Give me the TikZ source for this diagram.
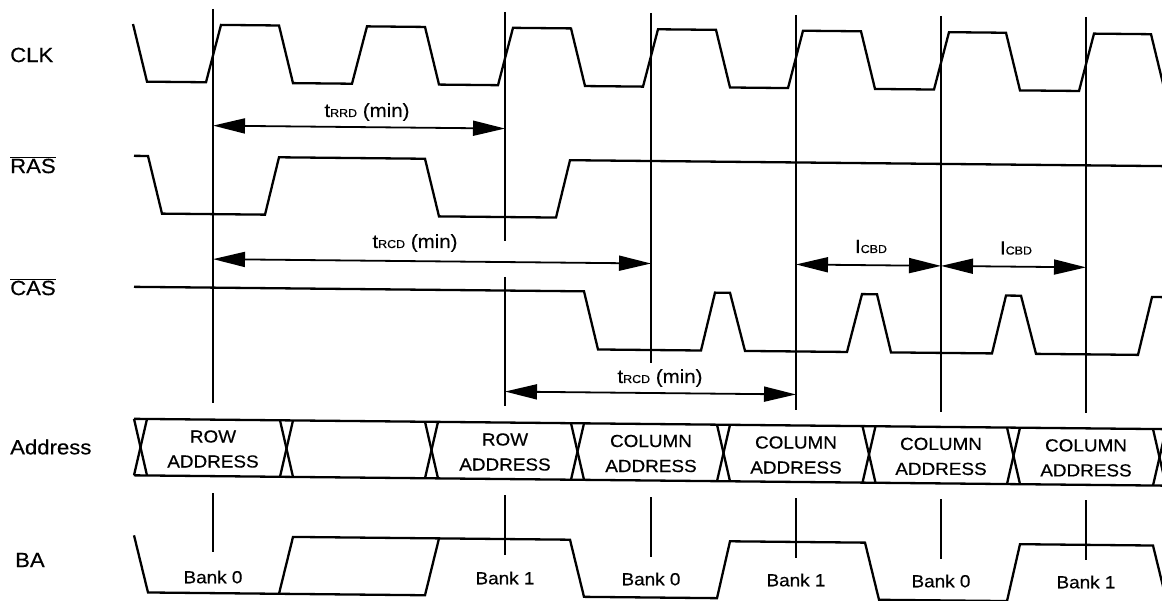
\documentclass[tikz,border=0pt]{standalone}
\usepackage{fontspec}
\setmainfont{Liberation Sans}[FakeStretch=1.08,FakeBold=0.4]
\usetikzlibrary{arrows.meta}
\begin{document}
\begin{tikzpicture}[x=1pt,y=-1pt,
  wave/.style={line width=2.3pt, line join=miter},
  guide/.style={line width=1.8pt},
  dim/.style={line width=1.8pt, {Triangle[length=32pt,width=15pt]}-{Triangle[length=32pt,width=15pt]}},
  sig/.style={font=\fontsize{20.5}{25}\selectfont, inner sep=0pt, anchor=west},
  lbl/.style={font=\fontsize{17.5}{25}\selectfont, inner sep=0pt},
  buslbl/.style={font=\fontsize{17.5}{25}\selectfont, inner sep=0pt, align=center},
  tlbl/.style={font=\fontsize{19}{20}\selectfont, inner sep=0pt, anchor=base}
]
\newcommand\sub[1]{{\fontsize{11.5}{12}\selectfont #1}}
\useasboundingbox (0,0) rectangle (1162,601);
\clip (0,0) rectangle (1162,601);
\fill[white] (0,0) rectangle (1162,601);

% ---------- sheared waveforms (scan skew) ----------
\begin{scope}[cm={1,-0.01,0,1,(0,0)}]
\def\ch{22.7}\def\cl{80.2}
% CLK
\draw[wave] (133,\ch) -- (147,\cl) -- (206,\cl) -- (221,\ch) -- (279,\ch) -- (293,\cl)
  -- (352,\cl) -- (367,\ch) -- (425,\ch) -- (439,\cl) -- (498,\cl) -- (513,\ch)
  -- (571,\ch) -- (585,\cl) -- (643,\cl) -- (658,\ch) -- (716,\ch) -- (730,\cl)
  -- (788,\cl) -- (803,\ch) -- (861,\ch) -- (875,\cl) -- (934,\cl) -- (949,\ch)
  -- (1006,\ch) -- (1020,\cl) -- (1079,\cl) -- (1094,\ch) -- (1151,\ch) -- (1165,\cl);
% RAS
\def\rh{154.5}\def\rl{212}
\draw[wave] (134,\rh) -- (148,\rh) -- (162,\rl) -- (265,\rl) -- (279,\rh) -- (425,\rh)
  -- (439,\rl) -- (556,\rl) -- (570,\rh) -- (1170,\rh);
% CAS
\def\sh{285.5}\def\sl{343.5}
\draw[wave] (134,\sh) -- (584,\sh) -- (598,\sl) -- (701,\sl) -- (715,\sh) -- (730,\sh)
  -- (745,\sl) -- (847,\sl) -- (862,\sh) -- (877,\sh) -- (891,\sl) -- (992,\sl)
  -- (1006,\sh) -- (1021,\sh) -- (1036,\sl) -- (1138,\sl) -- (1152,\sh) -- (1170,\sh);
% Address bus
\def\at{417.5}\def\ab{474}
\draw[wave] (134,\at) -- (1170,\at);
\draw[wave] (134,\ab) -- (1170,\ab);
\foreach \c in {140.5,286.5,431.5,577.5,723.5,869,1013.5,1159.5}{
  \draw[wave] (\c-6.5,\at) -- (\c+6.5,\ab);
  \draw[wave] (\c-6.5,\ab) -- (\c+6.5,\at);
}
% BA
\def\bt{534}\def\bb{591}
\draw[wave] (134,\bt) -- (148,\bb) -- (425,\bb) -- (439,\bt) -- (570,\bt) -- (584,\bb)
  -- (717,\bb) -- (730,\bt) -- (865,\bt) -- (879,\bb) -- (1007,\bb) -- (1020,\bt)
  -- (1153,\bt) -- (1167,\bb);
\draw[wave] (279,\bb) -- (293,\bt) -- (439,\bt);
% timing arrows
\draw[dim] (213,123.5) -- (505,123.5);
\draw[dim] (213,257) -- (651,257);
\draw[dim] (796,256.5) -- (941,256.5);
\draw[dim] (941,256.5) -- (1086,256.5);
\draw[dim] (505,386.5) -- (796,386.5);
\end{scope}

% ---------- clock-edge reference lines ----------
\draw[guide] (213,9) -- (213,403);
\draw[guide] (505,12) -- (505,241);
\draw[guide] (505,277) -- (505,406);
\draw[guide] (651,13) -- (651,363);
\draw[guide] (796,15) -- (796,410);
\draw[guide] (941,16) -- (941,412);
\draw[guide] (1086,17) -- (1086,413);
\draw[guide] (213,493) -- (213,552);
\draw[guide] (505,495) -- (505,555);
\draw[guide] (651,497) -- (651,557);
\draw[guide] (796,498) -- (796,558);
\draw[guide] (941,499) -- (941,559);
\draw[guide] (1086,500) -- (1086,560);

% ---------- signal names ----------
\node[sig] (nclk) at (10,55) {CLK};
\node[sig] (nras) at (10,165) {$\overline{\hbox{RAS}}$};
\node[sig] (ncas) at (10,287) {$\overline{\hbox{CAS}}$};
\node[sig] (nadr) at (10,447) {Address};
\node[sig] (nba)  at (15,560) {BA};

% ---------- bus contents ----------
\node[buslbl] (a1) at (213,449) {ROW\\ADDRESS};
\node[buslbl] (a2) at (505,452) {ROW\\ADDRESS};
\node[buslbl] (a3) at (651,453.5) {COLUMN\\ADDRESS};
\node[buslbl] (a4) at (796,455) {COLUMN\\ADDRESS};
\node[buslbl] (a5) at (941,456.4) {COLUMN\\ADDRESS};
\node[buslbl] (a6) at (1086,457.9) {COLUMN\\ADDRESS};

\node[lbl] (b1) at (213,577) {Bank 0};
\node[lbl] (b2) at (505,578) {Bank 1};
\node[lbl] (b3) at (651,579) {Bank 0};
\node[lbl] (b4) at (796,580) {Bank 1};
\node[lbl] (b5) at (941,581) {Bank 0};
\node[lbl] (b6) at (1086,582) {Bank 1};

% ---------- timing labels ----------
\node[tlbl] (trrd) at (367,117) {t\sub{RRD} (min)};
\node[tlbl] (trcd1) at (415,248) {t\sub{RCD} (min)};
\node[tlbl] (trcd2) at (660,383) {t\sub{RCD} (min)};
\node[tlbl] (tcbd1) at (871,253) {I\sub{CBD}};
\node[tlbl] (tcbd2) at (1016,254.5) {I\sub{CBD}};
\end{tikzpicture}
\end{document}
